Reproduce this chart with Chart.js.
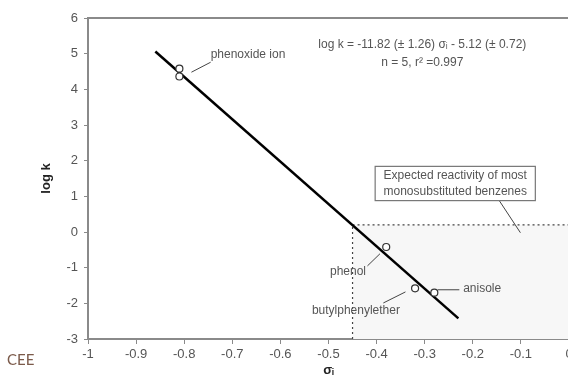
<!DOCTYPE html>
<html>
<head>
<meta charset="utf-8">
<script src="https://cdn.jsdelivr.net/npm/chart.js@4.4.1/dist/chart.umd.min.js"></script>
<style>
  html, body { margin: 0; padding: 0; background: #fff; overflow: hidden; }
  #wrap { width: 568px; height: 379px; overflow: hidden; }
</style>
</head>
<body>
<div id="wrap"><canvas id="chart" width="600" height="379"></canvas></div>
<script>
// datos medidos (sigma_i, log k)
const compounds = ['phenoxide ion', 'phenoxide ion', 'phenol', 'butylphenylether', 'anisole'];
const sigmaI = [-0.81, -0.81, -0.38, -0.32, -0.28];
const logK = [4.58, 4.36, -0.42, -1.58, -1.70];

// recta de regresion (extremos)
const fitX = [-0.86, -0.23];
const fitY = [5.06, -2.42];

// zona sombreada de reactividad esperada
const zoneX = [-0.45, 0];
const zoneTop = 0.2;

const xTicks = { min: -1, max: 0, step: 0.1 };
const yTicks = { min: -3, max: 6, step: 1 };

const grey = '#8a8a8a';
const txt = '#555';

// textos y lineas guia en coordenadas de datos
const annotations = {
  labels: [
    { text: 'phenoxide ion', x: -0.745, y: 4.97, align: 'left' },
    { text: 'phenol', x: -0.422, y: -1.12, align: 'right' },
    { text: 'butylphenylether', x: -0.443, y: -2.22, align: 'center' },
    { text: 'anisole', x: -0.220, y: -1.60, align: 'left' }
  ],
  leaders: [
    [-0.785, 4.48, -0.745, 4.76],
    [-0.419, -0.95, -0.393, -0.61],
    [-0.386, -1.99, -0.340, -1.68],
    [-0.273, -1.62, -0.228, -1.62],
    [-0.145, 0.88, -0.101, -0.02]
  ]
};

const annotPlugin = {
  id: 'annot',
  afterDatasetsDraw(chart) {
    const c = chart.ctx;
    const xs = chart.scales.x, ys = chart.scales.y;
    const px = v => xs.getPixelForValue(v);
    const py = v => ys.getPixelForValue(v);
    c.save();

    // borde superior del area
    c.strokeStyle = grey;
    c.lineWidth = 2;
    c.beginPath();
    c.moveTo(chart.chartArea.left, chart.chartArea.top);
    c.lineTo(chart.chartArea.right, chart.chartArea.top);
    c.stroke();

    // lineas guia
    c.strokeStyle = '#444';
    c.lineWidth = 1;
    annotations.leaders.forEach(l => {
      c.beginPath();
      c.moveTo(px(l[0]), py(l[1]));
      c.lineTo(px(l[2]), py(l[3]));
      c.stroke();
    });

    // etiquetas
    c.fillStyle = txt;
    c.font = '12px "Liberation Sans", Arial, sans-serif';
    c.textBaseline = 'middle';
    annotations.labels.forEach(l => {
      c.textAlign = l.align;
      c.fillText(l.text, px(l.x), py(l.y));
    });

    // ecuacion
    c.textAlign = 'center';
    c.fillText('log k = -11.82 (\u00b1 1.26) \u03c3\u1d62 - 5.12 (\u00b1 0.72)', px(-0.305), py(5.24));
    c.fillText('n = 5, r\u00b2 =0.997', px(-0.305), py(4.76));

    // caja
    const bx1 = px(-0.403), bx2 = px(-0.070), by1 = py(1.84), by2 = py(0.88);
    c.fillStyle = '#fff';
    c.fillRect(bx1, by1, bx2 - bx1, by2 - by1);
    c.strokeStyle = '#777';
    c.lineWidth = 1.2;
    c.strokeRect(bx1, by1, bx2 - bx1, by2 - by1);
    c.fillStyle = txt;
    c.fillText('Expected reactivity of most', (bx1 + bx2) / 2, by1 + 9);
    c.fillText('monosubstituted benzenes', (bx1 + bx2) / 2, by1 + 25);

    // marca de agua
    c.textAlign = 'left';
    c.fillStyle = '#7b5a4a';
    c.font = '15px Lato, sans-serif';
    c.fillText('CEE', 7, 360);
    c.restore();
  }
};

const tickFont = { size: 13, family: '"Liberation Sans", Arial, sans-serif' };
const titleFont = { size: 13, weight: 'bold', family: '"Liberation Sans", Arial, sans-serif' };

const ctx = document.getElementById('chart').getContext('2d');
const chart = new Chart(ctx, {
  type: 'scatter',
  data: {
    datasets: [
      {
        type: 'line',
        data: zoneX.map(x => ({ x: x, y: zoneTop })),
        borderColor: '#444',
        borderWidth: 1.2,
        borderDash: [2, 3],
        backgroundColor: '#f7f7f7',
        fill: 'start',
        pointRadius: 0,
        order: 4
      },
      {
        type: 'line',
        data: [{ x: zoneX[0], y: yTicks.min }, { x: zoneX[0], y: zoneTop }],
        borderColor: '#444',
        borderWidth: 1.2,
        borderDash: [2, 3],
        pointRadius: 0,
        fill: false,
        order: 3
      },
      {
        type: 'line',
        data: fitX.map((x, i) => ({ x: x, y: fitY[i] })),
        borderColor: '#000',
        borderWidth: 2.5,
        pointRadius: 0,
        fill: false,
        order: 2
      },
      {
        label: 'compounds',
        data: sigmaI.map((x, i) => ({ x: x, y: logK[i] })),
        pointRadius: 3.5,
        pointBackgroundColor: '#fff',
        pointBorderColor: '#333',
        pointBorderWidth: 1.2,
        order: 1
      }
    ]
  },
  options: {
    responsive: false,
    animation: false,
    layout: { padding: { left: 0, top: 18, right: 31, bottom: 0 } },
    plugins: { legend: { display: false }, tooltip: { enabled: false } },
    scales: {
      x: {
        type: 'linear',
        min: xTicks.min,
        max: xTicks.max,
        afterFit: s => { s.height = 40; },
        ticks: {
          stepSize: xTicks.step,
          color: txt,
          padding: 3,
          font: tickFont,
          callback: v => String(Number(v.toFixed(1)))
        },
        grid: { drawOnChartArea: false, tickLength: 5, color: grey, lineWidth: 1 },
        border: { color: grey, width: 2 },
        title: {
          display: true,
          text: '\u03c3\u1d62',
          color: '#222',
          padding: { top: 0, bottom: 1 },
          font: titleFont
        }
      },
      y: {
        min: yTicks.min,
        max: yTicks.max,
        afterFit: s => { s.width = 88; },
        ticks: {
          stepSize: yTicks.step,
          color: txt,
          padding: 6,
          font: tickFont
        },
        grid: { drawOnChartArea: false, tickLength: 4, color: grey, lineWidth: 1 },
        border: { color: grey, width: 2 },
        title: {
          display: true,
          text: 'log k',
          color: '#222',
          padding: { top: 39, bottom: 0 },
          font: titleFont
        }
      }
    }
  },
  plugins: [annotPlugin]
});
</script>
</body>
</html>
